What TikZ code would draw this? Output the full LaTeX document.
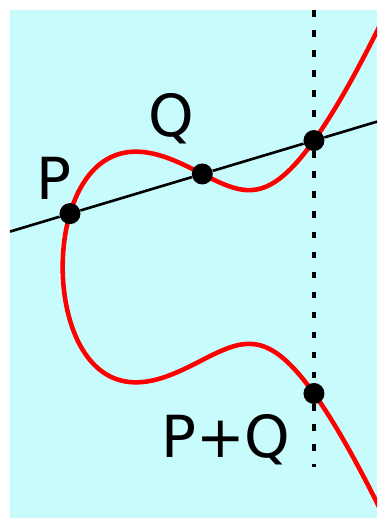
\documentclass[tikz,border=0pt]{standalone}
\usepackage{fontspec}
\setmainfont{DejaVu Sans}
\definecolor{bgcyan}{RGB}{200,252,252}

\begin{document}
\begin{tikzpicture}[x=1.96cm, y=1.96cm,
		dot/.style={circle, fill=black, inner sep=0pt, minimum size=0.42cm},
		lbl/.style={anchor=base, font=\fontsize{33}{33}\selectfont}]
		\useasboundingbox (-1.9643,-2.5612) rectangle (1.8827,2.7245);
		\fill [bgcyan] (-1.8622,-2.5612) rectangle (1.8827,2.6224);
		\begin{scope}
			\clip (-1.8622,-2.5612) rectangle (1.8827,2.6224);
			\draw [red, line width=2.6pt, samples=241, smooth, domain=-1.8:1.8, variable=\t] plot ({-1.324718+(\t)^2}, {(\t)*sqrt((\t)^4-3.974154*(\t)^2+4.264634)});
		\end{scope}
		\node [dot] (P) at (-1.25, 0.54486) {};
		\node [dot] (Q) at (0.1, 0.94921) {};
		\node [dot] (R) at (1.23971, 1.29058) {};
		\node [dot] (PQ) at (1.23971, -1.29058) {};
		\coordinate (lineL) at (-1.8622, 0.36149);
		\coordinate (lineR) at (1.8827, 1.48317);
		\coordinate (vtop) at (1.23971, 2.6224);
		\coordinate (vbot) at (1.23971, -2.0408);
		\draw [line width=1.5pt] (lineL) -- (P) -- (Q) -- (R) -- (lineR);
		\draw [line width=2.1pt, dash pattern=on 3.8pt off 7.6pt] (vtop) -- (R) -- (PQ) -- (vbot);
		\node [lbl] (Plbl) at (-1.413, 0.684) {P};
		\node [lbl] (Qlbl) at (-0.219, 1.327) {Q};
		\node [lbl] (PQlbl) at (0.342, -1.939) {P+Q};
	\end{tikzpicture}
\end{document}
